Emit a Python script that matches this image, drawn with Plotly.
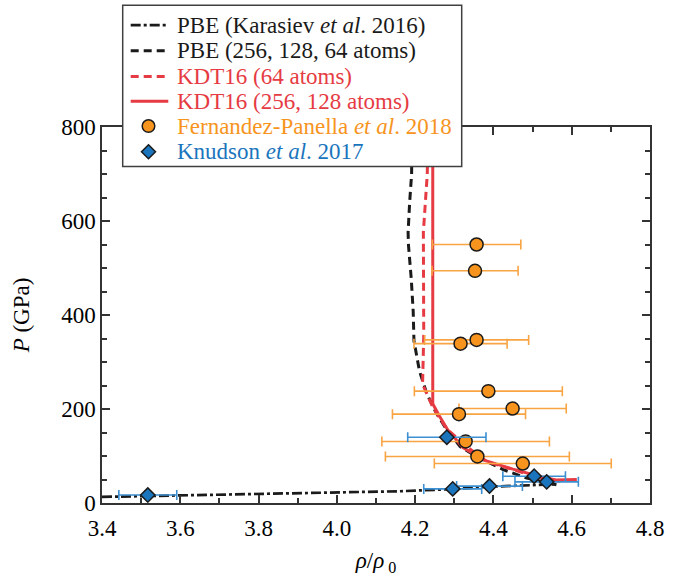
import plotly.graph_objects as go

# ---------------- data ----------------
pbe_kar_x = [3.40, 3.60, 3.85, 4.00, 4.16, 4.28, 4.40, 4.50, 4.56]
pbe_kar_y = [13, 16, 20, 22, 25, 29, 35, 38, 40]

pbe_x = [4.192, 4.191, 4.186, 4.182, 4.183, 4.190, 4.195, 4.197, 4.211, 4.230, 4.255,
         4.276, 4.315, 4.357, 4.425, 4.485, 4.561]
pbe_y = [800, 700, 640, 576, 548, 478, 408, 345, 281, 232, 190, 162, 120, 99, 71, 53, 39]

kdt64_x = [4.233, 4.231, 4.221, 4.222, 4.222, 4.219, 4.245, 4.272, 4.283, 4.332, 4.383,
           4.451, 4.519, 4.570]
kdt64_y = [800, 700, 576, 450, 358, 253, 204, 169, 156, 120, 88, 71, 53, 46]

kdt256_x = [4.245, 4.245, 4.262, 4.283, 4.322, 4.380, 4.450, 4.520, 4.560, 4.613]
kdt256_y = [800, 211, 185, 156, 118, 90, 72, 56, 49, 50]

fp_x = [4.357, 4.353, 4.357, 4.316, 4.387, 4.449, 4.312, 4.329, 4.359, 4.475]
fp_y = [550, 494, 347, 339, 238, 201, 189, 131, 99, 84]
fp_err = [0.113, 0.110, 0.133, 0.119, 0.189, 0.137, 0.170, 0.214, 0.235, 0.226]

kn_x = [3.517, 4.281, 4.296, 4.390, 4.504, 4.536]
kn_y = [17, 140, 30, 36, 57, 45]
kn_err = [0.074, 0.100, 0.074, 0.084, 0.080, 0.081]

legend_labels = [
    "PBE (Karasiev <i>et al</i>. 2016)",
    "PBE (256, 128, 64 atoms)",
    "KDT16 (64 atoms)",
    "KDT16 (256, 128 atoms)",
    "Fernandez-Panella <i>et al</i>. 2018",
    "Knudson <i>et al</i>. 2017",
]

# ---------------- style ----------------
BLACK = "#1a1a1a"
RED = "#E63B43"
ORANGE = "#F7941E"
ORANGE_ERR = "#F9A443"
BLUE = "#1B75BC"
BLUE_ERR = "#3C8FD0"
FONT = "Times New Roman, Liberation Serif, DejaVu Serif, serif"

W, H = 689, 581
L, R, T, B = 102, 39, 127, 74
PW, PH = W - L - R, H - T - B

fig = go.Figure()

fig.add_trace(go.Scatter(x=pbe_kar_x, y=pbe_kar_y, mode="lines",
                         line=dict(color=BLACK, width=2.7, dash="10px,3px,3px,3px"),
                         showlegend=False))
fig.add_trace(go.Scatter(x=pbe_x, y=pbe_y, mode="lines",
                         line=dict(color=BLACK, width=3, dash="8px,5px"),
                         showlegend=False))
fig.add_trace(go.Scatter(x=kdt64_x, y=kdt64_y, mode="lines",
                         line=dict(color=RED, width=3, dash="8px,5px"),
                         showlegend=False))
fig.add_trace(go.Scatter(x=kdt256_x, y=kdt256_y, mode="lines",
                         line=dict(color=RED, width=3),
                         showlegend=False))
fig.add_trace(go.Scatter(x=fp_x, y=fp_y, mode="markers",
                         marker=dict(symbol="circle", size=13, color=ORANGE,
                                     line=dict(color=BLACK, width=1.5)),
                         error_x=dict(type="data", array=fp_err, color=ORANGE_ERR,
                                      thickness=1.6, width=5),
                         showlegend=False))
fig.add_trace(go.Scatter(x=kn_x, y=kn_y, mode="markers",
                         marker=dict(symbol="diamond", size=11, color=BLUE,
                                     line=dict(color=BLACK, width=1.5)),
                         error_x=dict(type="data", array=kn_err, color=BLUE_ERR,
                                      thickness=1.6, width=5),
                         showlegend=False))

# ---------------- custom legend ----------------
def px2x(px):
    return (px - L) / PW

def py2y(py):
    return (H - B - py) / PH

shapes = [dict(type="rect", xref="paper", yref="paper",
               x0=px2x(122.7), x1=px2x(461.7), y0=py2y(167), y1=py2y(4),
               fillcolor="white", line=dict(color="#404040", width=1.5), layer="above")]
rows_py = [24, 50, 76, 101, 126, 152]
lx0, lx1 = px2x(130.7), px2x(168.3)
mx_px = 148.5
line_styles = [
    dict(color=BLACK, width=2.7, dash="10px,3px,3px,3px"),
    dict(color=BLACK, width=3, dash="8px,5px"),
    dict(color=RED, width=3, dash="8px,5px"),
    dict(color=RED, width=3),
]
for i, st in enumerate(line_styles):
    shapes.append(dict(type="line", xref="paper", yref="paper", x0=lx0, x1=lx1,
                       y0=py2y(rows_py[i]), y1=py2y(rows_py[i]), line=st, layer="above"))
# circle marker
r = 6.3
cy = rows_py[4]
shapes.append(dict(type="circle", xref="paper", yref="paper",
                   x0=px2x(mx_px - r), x1=px2x(mx_px + r),
                   y0=py2y(cy + r), y1=py2y(cy - r),
                   fillcolor=ORANGE, line=dict(color=BLACK, width=1.5), layer="above"))
# diamond marker
d = 7
cy = rows_py[5]
path = "M {a},{b} L {c},{e} L {a},{f} L {g},{e} Z".format(
    a=px2x(mx_px), b=py2y(cy - d), c=px2x(mx_px + d), e=py2y(cy),
    f=py2y(cy + d), g=px2x(mx_px - d))
shapes.append(dict(type="path", xref="paper", yref="paper", path=path,
                   fillcolor=BLUE, line=dict(color=BLACK, width=1.5), layer="above"))

text_colors = [BLACK, BLACK, RED, RED, ORANGE, BLUE]
annotations = []
for i, lab in enumerate(legend_labels):
    annotations.append(dict(xref="paper", yref="paper", x=px2x(175), y=py2y(rows_py[i]),
                            text=lab, showarrow=False, xanchor="left", yanchor="middle",
                            font=dict(family=FONT, size=23, color=text_colors[i])))

axis_common = dict(
    showline=True, linecolor="#333333", linewidth=1.5, mirror="allticks",
    ticks="inside", ticklen=8, tickwidth=1.5, tickcolor="#333333",
    showgrid=False, zeroline=False,
    tickfont=dict(family=FONT, size=23, color="black"),
)

fig.update_layout(
    width=W, height=H,
    margin=dict(l=L, r=R, t=T, b=B),
    paper_bgcolor="white", plot_bgcolor="white",
    font=dict(family=FONT),
    xaxis=dict(range=[3.4, 4.8], dtick=0.2, tick0=3.4, tickformat=".1f",
               ticklabelstandoff=4,
               minor=dict(dtick=0.1, ticklen=5, tickwidth=1.5, tickcolor="#333333", ticks="inside"),
               title=dict(text="<i>ρ</i>/<i>ρ</i><sub> 0</sub>",
                          font=dict(family=FONT, size=23, color="black"), standoff=12),
               **axis_common),
    yaxis=dict(range=[0, 800], dtick=200, tick0=0,
               minor=dict(dtick=50, ticklen=5, tickwidth=1.5, tickcolor="#333333", ticks="inside"),
               title=dict(text="<i>P</i> (GPa)",
                          font=dict(family=FONT, size=23, color="black"), standoff=25),
               **axis_common),
    shapes=shapes,
    annotations=annotations,
    showlegend=False,
)

fig.write_html("out.html")
